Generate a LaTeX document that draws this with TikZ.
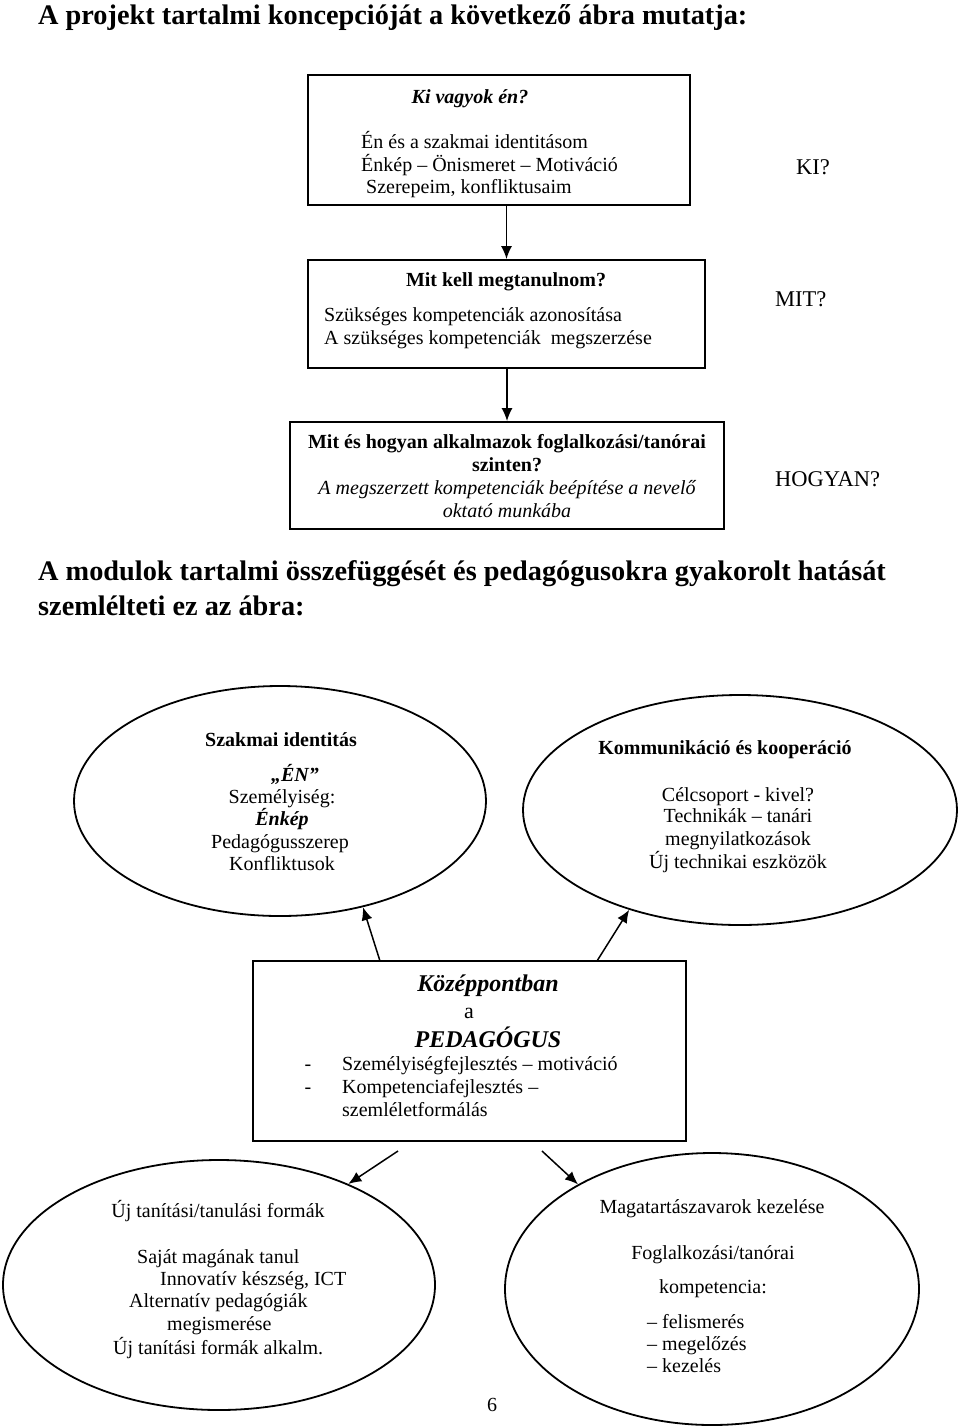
\documentclass[tikz,border=0pt]{standalone}
\usepackage{fontspec}
\setmainfont{Liberation Serif}
\usetikzlibrary{arrows.meta,shapes.geometric}
\tikzset{
  boxnode/.style={draw, line width=1.8pt, inner sep=0pt, rectangle},
  ell/.style={draw, line width=1.8pt, inner sep=0pt, ellipse},
  txt/.style={font=\fontsize{20}{24}\selectfont, inner sep=0pt, anchor=base},
  ltxt/.style={txt, anchor=base west},
  side/.style={font=\fontsize{22.5}{26}\selectfont, inner sep=0pt, anchor=base west},
  head/.style={font=\fontsize{28.3}{34}\selectfont\bfseries, inner sep=0pt, anchor=base west},
  big/.style={font=\fontsize{24}{28}\selectfont\bfseries\itshape, inner sep=0pt, anchor=base},
  arr/.style={-{Latex[length=13pt,width=11pt]}, line width=1.5pt},
}
\begin{document}
\begin{tikzpicture}[x=1pt,y=-1pt]
\useasboundingbox[fill=white] (0,0) rectangle (960,1428);

% headings
\node[head] (h1) at (38,24) {A projekt tartalmi koncepcióját a következő ábra mutatja:};
\node[head] (h2) at (38,580) {A modulok tartalmi összefüggését és pedagógusokra gyakorolt hatását};
\node[head] (h3) at (38,615) {szemlélteti ez az ábra:};

% top flow boxes
\node[boxnode, minimum width=382pt, minimum height=130pt] (b1) at (499,140) {};
\node[boxnode, minimum width=397pt, minimum height=108pt] (b2) at (506.5,314) {};
\node[boxnode, minimum width=434pt, minimum height=107pt] (b3) at (507,475.5) {};

\node[txt, font=\fontsize{20}{24}\selectfont\bfseries\itshape] (t11) at (470,103) {Ki vagyok én?};
\node[ltxt] (t12) at (361,148) {Én és a szakmai identitásom};
\node[ltxt] (t13) at (361,171) {Énkép – Önismeret – Motiváció};
\node[ltxt] (t14) at (366,193) {Szerepeim, konfliktusaim};
\node[side] (ki) at (796,174) {KI?};

\node[txt, font=\fontsize{20}{24}\selectfont\bfseries] (t21) at (506,286) {Mit kell megtanulnom?};
\node[ltxt] (t22) at (324,321) {Szükséges kompetenciák azonosítása};
\node[ltxt] (t23) at (324,344) {A szükséges kompetenciák\ \ megszerzése};
\node[side] (mit) at (775,306) {MIT?};

\node[txt, font=\fontsize{20}{24}\selectfont\bfseries] (t31) at (507,448) {Mit és hogyan alkalmazok foglalkozási/tanórai};
\node[txt, font=\fontsize{20}{24}\selectfont\bfseries] (t32) at (507,471) {szinten?};
\node[txt, font=\fontsize{20}{24}\selectfont\itshape] (t33) at (507,494) {A megszerzett kompetenciák beépítése a nevelő};
\node[txt, font=\fontsize{20}{24}\selectfont\itshape] (t34) at (507,517) {oktató munkába};
\node[side] (hogyan) at (775,486) {HOGYAN?};

\draw[arr] (b2.north |- b1.south) -- (b2.north);
\draw[arr] (b3.north |- b2.south) -- (b3.north);

% ellipses
\node[ell, minimum width=412pt, minimum height=230pt] (e1) at (280,801) {};
\node[ell, minimum width=434pt, minimum height=230pt] (e2) at (740,810) {};
\node[ell, minimum width=432pt, minimum height=250pt] (e3) at (219,1285) {};
\node[ell, minimum width=414pt, minimum height=272pt] (e4) at (712,1289) {};

\node[txt, font=\fontsize{20}{24}\selectfont\bfseries] (e1a) at (281,746) {Szakmai identitás};
\node[txt, font=\fontsize{20}{24}\selectfont\bfseries\itshape] (e1b) at (295,781) {„ÉN”};
\node[txt] (e1c) at (282,803) {Személyiség:};
\node[txt, font=\fontsize{20}{24}\selectfont\bfseries\itshape] (e1d) at (282,825) {Énkép};
\node[txt] (e1e) at (280,848) {Pedagógusszerep};
\node[txt] (e1f) at (282,870) {Konfliktusok};

\node[txt, font=\fontsize{20}{24}\selectfont\bfseries] (e2a) at (725,754) {Kommunikáció és kooperáció};
\node[txt] (e2b) at (738,801) {Célcsoport - kivel?};
\node[txt] (e2c) at (738,822) {Technikák – tanári};
\node[txt] (e2d) at (738,845) {megnyilatkozások};
\node[txt] (e2e) at (738,868) {Új technikai eszközök};

% centre box
\node[boxnode, minimum width=433pt, minimum height=180pt] (cb) at (469.5,1051) {};
\node[big] (c1) at (488,991) {Középpontban};
\node[txt, font=\fontsize{22}{26}\selectfont] (c2) at (469,1018) {a};
\node[big] (c3) at (488,1047) {PEDAGÓGUS};
\node[txt] (c4d) at (308,1070) {-};
\node[ltxt] (c4) at (342,1070) {Személyiségfejlesztés – motiváció};
\node[txt] (c5d) at (308,1093) {-};
\node[ltxt] (c5) at (342,1093) {Kompetenciafejlesztés –};
\node[ltxt] (c6) at (342,1116) {szemléletformálás};

\coordinate (s1) at (380,961);
\coordinate (s2) at (597,961);
\coordinate (s3) at (398,1151);
\coordinate (s4) at (542,1151);
\draw[arr] (s1) -- (e1.-52.5);
\draw[arr] (s2) -- (e2.-138.3);
\draw[arr] (s3) -- (e3.38.6);
\draw[arr] (s4) -- (e4.142.4);

% bottom ellipses text
\node[txt] (e3a) at (218,1217) {Új tanítási/tanulási formák};
\node[ltxt] (e3b) at (137,1263) {Saját magának tanul};
\node[ltxt] (e3c) at (160,1285) {Innovatív készség, ICT};
\node[ltxt] (e3d) at (129,1307) {Alternatív pedagógiák};
\node[ltxt] (e3e) at (167,1330) {megismerése};
\node[ltxt] (e3f) at (113,1354) {Új tanítási formák alkalm.};

\node[txt] (e4a) at (712,1213) {Magatartászavarok kezelése};
\node[txt] (e4b) at (713,1259) {Foglalkozási/tanórai};
\node[txt] (e4c) at (713,1293) {kompetencia:};
\node[ltxt] (e4d) at (647,1328) {– felismerés};
\node[ltxt] (e4e) at (647,1350) {– megelőzés};
\node[ltxt] (e4f) at (647,1372) {– kezelés};

\node[txt] (pg) at (492,1411) {6};
\end{tikzpicture}
\end{document}
